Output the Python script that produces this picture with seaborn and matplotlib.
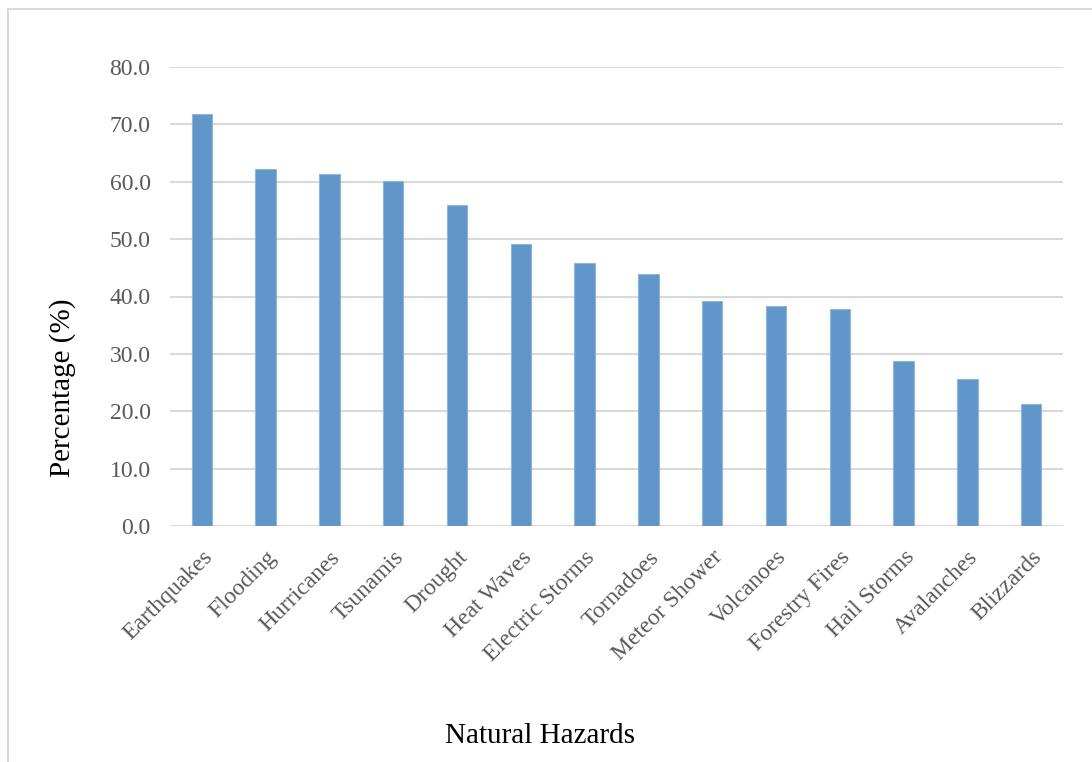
import matplotlib
matplotlib.use("Agg")
import matplotlib.pyplot as plt
import matplotlib.patches as mpatches
import seaborn as sns
import pandas as pd

# Share of respondents concerned about each natural hazard
hazards = ["Earthquakes", "Flooding", "Hurricanes", "Tsunamis", "Drought",
           "Heat Waves", "Electric Storms", "Tornadoes", "Meteor Shower",
           "Volcanoes", "Forestry Fires", "Hail Storms", "Avalanches", "Blizzards"]
percentages = [71.8, 62.2, 61.4, 60.1, 55.9, 49.1, 45.8, 44.0, 39.2,
               38.3, 37.8, 28.7, 25.7, 21.3]
y_ticks = [0, 10, 20, 30, 40, 50, 60, 70, 80]

df = pd.DataFrame({"hazard": hazards, "pct": percentages})

sns.set_theme(style="white")
plt.rcParams["font.family"] = ["Liberation Serif", "DejaVu Serif"]

fig = plt.figure(figsize=(10.92, 7.62), dpi=100)
W, H = 1092, 762
ax = fig.add_axes([170 / W, 1 - 526 / H, (1063 - 170) / W, (526 - 67) / H])

sns.barplot(data=df, x="hazard", y="pct", ax=ax, color="#6096c9",
            width=0.32, saturation=1, edgecolor="#8fb5dc", linewidth=0.8,
            zorder=3)

ax.set_ylim(0, 80)
ax.set_xlim(-0.5, len(hazards) - 0.5)
ax.set_yticks(y_ticks)
ax.set_yticklabels([f"{v:.1f}" for v in y_ticks], fontsize=17, color="#595959")
ax.yaxis.grid(True, color="#d9d9d9", linewidth=1.5, zorder=0)
ax.set_axisbelow(True)
ax.tick_params(axis="both", length=0)
ax.tick_params(axis="y", pad=14)
ax.tick_params(axis="x", pad=15)

ax.set_xticks(range(len(hazards)))
ax.set_xticklabels(hazards, rotation=45, ha="right", rotation_mode="anchor",
                   fontsize=17, color="#595959")

for s in ax.spines.values():
    s.set_visible(False)

ax.set_xlabel("Natural Hazards", fontsize=21, color="black")
ax.set_ylabel("Percentage (%)", fontsize=21, color="black")
ax.xaxis.set_label_coords((540 - 170) / (1063 - 170), -(723 - 526) / (526 - 67))
ax.yaxis.set_label_coords(-(170 - 76) / (1063 - 170), (526 - 388) / (526 - 67))

# light frame around the chart area
frame = mpatches.Rectangle((7.5 / W, -0.2), 1.2, 1 - 9 / H + 0.2,
                           transform=fig.transFigure, fill=False,
                           edgecolor="#d9d9d9", linewidth=1.5, clip_on=False)
fig.patches.append(frame)

fig.savefig("out.png", dpi=100, facecolor="white")
